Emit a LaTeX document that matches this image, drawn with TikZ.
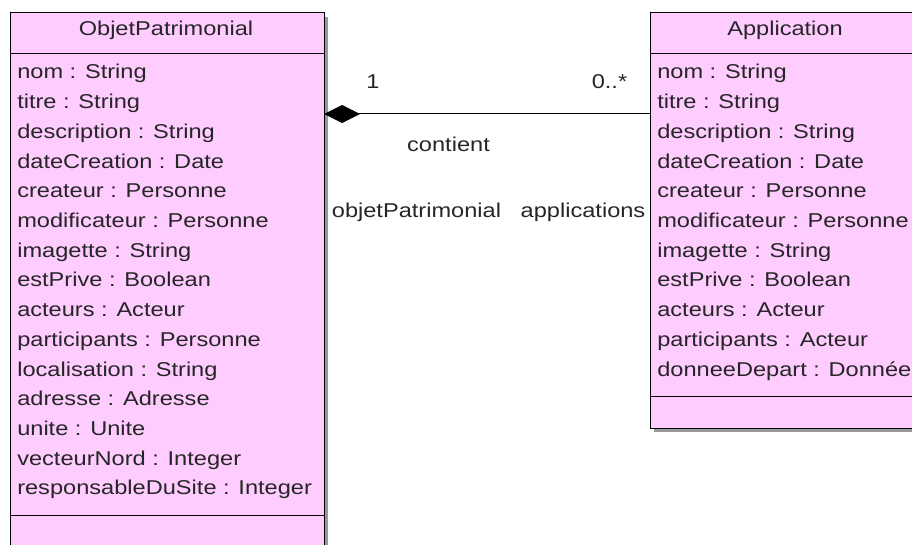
\documentclass[tikz,border=0pt]{standalone}
\usepackage{fontspec}
\setmainfont{Liberation Sans}[FakeStretch=1.18]
\usetikzlibrary{arrows.meta,shadows}
\definecolor{classpink}{RGB}{255,204,255}
\begin{document}
\begin{tikzpicture}[x=0.75pt,y=-0.75pt,
  font=\fontsize{15pt}{18pt}\selectfont,
  classbox/.style={draw=black, line width=0.75pt, fill=classpink, inner sep=0pt, outer sep=0pt, anchor=north west,
    drop shadow={shadow xshift=3pt, shadow yshift=-3pt, fill=black, opacity=0.4}},
  attr/.style={anchor=base west, inner sep=0pt, text=black!85},
  lbl/.style={anchor=base, inner sep=0pt, text=black!85},
  sep/.style={draw=black, line width=0.75pt},
  assoc/.style={draw=black, line width=0.75pt}]
\useasboundingbox (0,0) rectangle (912,545);
\clip (0,0) rectangle (912,545);
% class boxes
\node[classbox, minimum width=235.5pt, minimum height=410.25pt] (op) at (10,13) {};
\node[classbox, minimum width=202.5pt, minimum height=311.25pt] (app) at (650,13) {};
% compartments
\coordinate (hsep) at (0,54);
\coordinate (opsep) at (0,515);
\coordinate (appsep) at (0,396);
\draw[sep] (op.west |- hsep) -- (op.east |- hsep);
\draw[sep] (op.west |- opsep) -- (op.east |- opsep);
\draw[sep] (app.west |- hsep) -- (app.east |- hsep);
\draw[sep] (app.west |- appsep) -- (app.east |- appsep);
% titles
\node[lbl] (optitle) at (166,36) {ObjetPatrimonial};
\node[lbl] (apptitle) at (785,36) {Application};
% attributes
\foreach \t [count=\i from 0] in {nom : String, titre : String, description : String, dateCreation : Date, createur : Personne, modificateur : Personne, imagette : String, estPrive : Boolean, acteurs : Acteur, participants : Personne, localisation : String, adresse : Adresse, unite : Unite, vecteurNord : Integer, responsableDuSite : Integer}
  \node[attr] (opa\i) at (17,{79+29.7*\i}) {\t};
\foreach \t [count=\i from 0] in {nom : String, titre : String, description : String, dateCreation : Date, createur : Personne, modificateur : Personne, imagette : String, estPrive : Boolean, acteurs : Acteur, participants : Acteur, donneeDepart : Donnée}
  \node[attr] (appa\i) at (657,{79+29.7*\i}) {\t};
% association
\coordinate (conn) at (0,114);
\draw[assoc, {Diamond[length=27pt,width=13.5pt]}-] (op.east |- conn) -- (app.west |- conn);
\node[lbl] (m1) at (373,89) {1};
\node[lbl] (m2) at (609.5,89) {0..*};
\node[lbl] (aname) at (448.5,152) {contient};
\node[lbl] (r1) at (416.5,217) {objetPatrimonial};
\node[lbl] (r2) at (583,217) {applications};
\end{tikzpicture}
\end{document}
